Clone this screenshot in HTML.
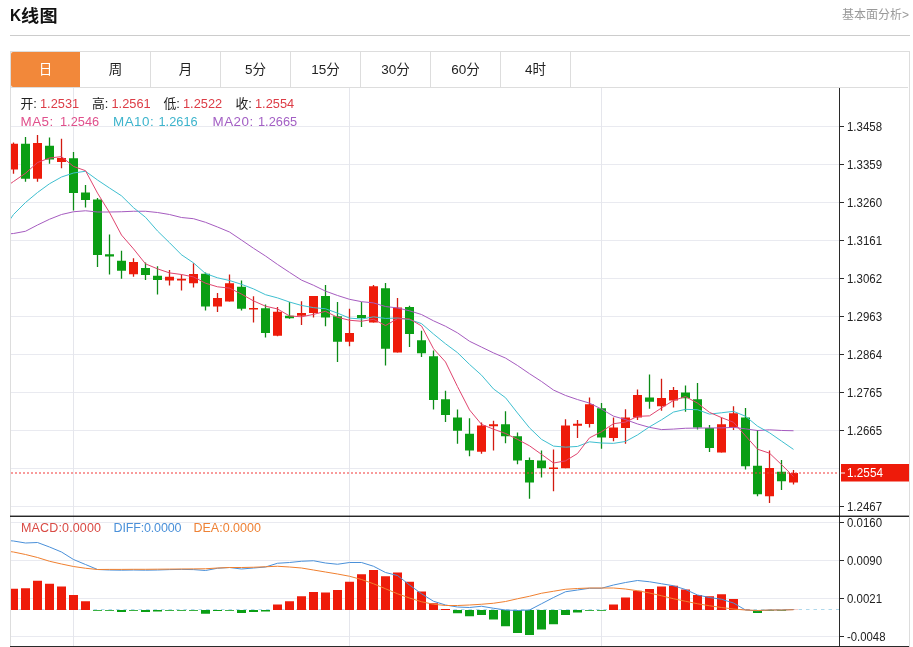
<!DOCTYPE html>
<html lang="zh-CN"><head><meta charset="utf-8"><title>K线图</title>
<style>
html,body{margin:0;padding:0;background:#fff;}
body{width:913px;height:647px;position:relative;overflow:hidden;font-family:"Liberation Sans","Noto Sans CJK SC",sans-serif;color:#222;}
.abs{position:absolute;white-space:nowrap;}
.title{left:10.5px;top:3.5px;font-size:17px;font-weight:bold;line-height:24px;color:#111;}
.more{right:4px;top:6.5px;font-size:12px;line-height:16px;color:#999;}
.hr{left:10px;top:35px;width:900px;height:1px;background:#ccc;}
.box{left:10px;top:51px;width:898px;height:600px;border:1px solid #ddd;}
.tabs{left:11px;top:52px;height:35px;width:897px;border-bottom:1px solid #ddd;}
.tab{position:absolute;top:0;width:69px;height:35px;line-height:36px;text-align:center;font-size:13.5px;border-right:1px solid #ddd;color:#222;}
.tab.on{background:#f2883a;color:#fff;border-right-color:#fff;border-radius:2px 0 0 2px;}
.t{font-size:12.8px;line-height:16px;}.l{font-size:13.4px;letter-spacing:.5px}.m{font-size:12.5px}
.red{color:#dc3c46}.pk{color:#e0508c}.cy{color:#3db4cc}.pu{color:#a35fc4}.mr{color:#d94a44}.mb{color:#4a90d9}.mo{color:#ee8236}
</style></head><body>
<div class="abs title" style="left:9.9px"><span style="display:inline-block;transform:scaleX(.9);transform-origin:0 50%;">K</span></div><div class="abs title" style="left:21.3px;letter-spacing:.3px;font-size:16.5px;transform:scaleX(1.1);transform-origin:0 50%;top:3.6px">线图</div>
<div class="abs more">基本面分析&gt;</div>
<div class="abs hr"></div>
<div class="abs box"></div>
<svg width="913" height="647" viewBox="0 0 913 647" style="position:absolute;left:0;top:0">
<defs><clipPath id="cp"><rect x="11" y="88" width="829" height="560"/></clipPath></defs>
<g stroke="#e9eaf0" stroke-width="1" shape-rendering="crispEdges">
<line x1="11" x2="839" y1="126.5" y2="126.5"/>
<line x1="11" x2="839" y1="164.5" y2="164.5"/>
<line x1="11" x2="839" y1="202.5" y2="202.5"/>
<line x1="11" x2="839" y1="240.5" y2="240.5"/>
<line x1="11" x2="839" y1="278.5" y2="278.5"/>
<line x1="11" x2="839" y1="316.5" y2="316.5"/>
<line x1="11" x2="839" y1="354.5" y2="354.5"/>
<line x1="11" x2="839" y1="392.5" y2="392.5"/>
<line x1="11" x2="839" y1="430.5" y2="430.5"/>
<line x1="11" x2="839" y1="468.5" y2="468.5"/>
<line x1="11" x2="839" y1="506.5" y2="506.5"/>
<line x1="11" x2="839" y1="522.5" y2="522.5"/>
<line x1="11" x2="839" y1="560.5" y2="560.5"/>
<line x1="11" x2="839" y1="598.5" y2="598.5"/>
<line x1="11" x2="839" y1="636.5" y2="636.5"/>
</g>
<g stroke="#e5e6ec" stroke-width="1" shape-rendering="crispEdges">
<line x1="73.5" x2="73.5" y1="88" y2="647"/>
<line x1="349.5" x2="349.5" y1="88" y2="647"/>
<line x1="601.5" x2="601.5" y1="88" y2="647"/>
</g>
<g clip-path="url(#cp)">
<line x1="11" x2="839" y1="609.5" y2="609.5" stroke="#b0d9ec" stroke-width="1" stroke-dasharray="3.5 4"/>
<line x1="13.5" x2="13.5" y1="142.5" y2="173.75" stroke="#d21a10" stroke-width="1.3"/>
<rect x="9" y="143.75" width="9" height="25.75" fill="#ee1b0a"/>
<line x1="25.5" x2="25.5" y1="137" y2="181.75" stroke="#0b8a16" stroke-width="1.3"/>
<rect x="21" y="143.75" width="9" height="35" fill="#0a9e14"/>
<line x1="37.5" x2="37.5" y1="135" y2="181.75" stroke="#d21a10" stroke-width="1.3"/>
<rect x="33" y="143" width="9" height="35.75" fill="#ee1b0a"/>
<line x1="49.5" x2="49.5" y1="137.5" y2="163.75" stroke="#0b8a16" stroke-width="1.3"/>
<rect x="45" y="145.75" width="9" height="13.75" fill="#0a9e14"/>
<line x1="61.5" x2="61.5" y1="138.75" y2="168.25" stroke="#d21a10" stroke-width="1.3"/>
<rect x="57" y="158" width="9" height="4" fill="#ee1b0a"/>
<line x1="73.5" x2="73.5" y1="152" y2="210.5" stroke="#0b8a16" stroke-width="1.3"/>
<rect x="69" y="158.25" width="9" height="34.75" fill="#0a9e14"/>
<line x1="85.5" x2="85.5" y1="185" y2="207.5" stroke="#0b8a16" stroke-width="1.3"/>
<rect x="81" y="192.5" width="9" height="7.5" fill="#0a9e14"/>
<line x1="97.5" x2="97.5" y1="198" y2="267" stroke="#0b8a16" stroke-width="1.3"/>
<rect x="93" y="199.5" width="9" height="55.5" fill="#0a9e14"/>
<line x1="109.5" x2="109.5" y1="234.5" y2="274.5" stroke="#0b8a16" stroke-width="1.3"/>
<rect x="105" y="254.25" width="9" height="2.25" fill="#0a9e14"/>
<line x1="121.5" x2="121.5" y1="250.75" y2="278.75" stroke="#0b8a16" stroke-width="1.3"/>
<rect x="117" y="260.75" width="9" height="10" fill="#0a9e14"/>
<line x1="133.5" x2="133.5" y1="258.25" y2="276.75" stroke="#d21a10" stroke-width="1.3"/>
<rect x="129" y="262" width="9" height="12.25" fill="#ee1b0a"/>
<line x1="145.5" x2="145.5" y1="262.5" y2="280" stroke="#0b8a16" stroke-width="1.3"/>
<rect x="141" y="268" width="9" height="7" fill="#0a9e14"/>
<line x1="157.5" x2="157.5" y1="266.25" y2="294.5" stroke="#0b8a16" stroke-width="1.3"/>
<rect x="153" y="275.75" width="9" height="4.25" fill="#0a9e14"/>
<line x1="169.5" x2="169.5" y1="270" y2="285.5" stroke="#d21a10" stroke-width="1.3"/>
<rect x="165" y="276.75" width="9" height="3.75" fill="#ee1b0a"/>
<line x1="181.5" x2="181.5" y1="274.5" y2="290.5" stroke="#d21a10" stroke-width="1.3"/>
<rect x="177" y="278.75" width="9" height="1.75" fill="#ee1b0a"/>
<line x1="193.5" x2="193.5" y1="263.25" y2="287.5" stroke="#d21a10" stroke-width="1.3"/>
<rect x="189" y="274" width="9" height="9.25" fill="#ee1b0a"/>
<line x1="205.5" x2="205.5" y1="272.5" y2="310.5" stroke="#0b8a16" stroke-width="1.3"/>
<rect x="201" y="273.75" width="9" height="32.75" fill="#0a9e14"/>
<line x1="217.5" x2="217.5" y1="293" y2="312" stroke="#d21a10" stroke-width="1.3"/>
<rect x="213" y="298" width="9" height="8.5" fill="#ee1b0a"/>
<line x1="229.5" x2="229.5" y1="274.5" y2="301.5" stroke="#d21a10" stroke-width="1.3"/>
<rect x="225" y="283.25" width="9" height="18.25" fill="#ee1b0a"/>
<line x1="241.5" x2="241.5" y1="280.5" y2="310.5" stroke="#0b8a16" stroke-width="1.3"/>
<rect x="237" y="286.75" width="9" height="22" fill="#0a9e14"/>
<line x1="253.5" x2="253.5" y1="296.25" y2="322.5" stroke="#d21a10" stroke-width="1.3"/>
<rect x="249" y="308" width="9" height="1.5" fill="#ee1b0a"/>
<line x1="265.5" x2="265.5" y1="304.5" y2="337.5" stroke="#0b8a16" stroke-width="1.3"/>
<rect x="261" y="308.25" width="9" height="24.75" fill="#0a9e14"/>
<line x1="277.5" x2="277.5" y1="307" y2="336.25" stroke="#d21a10" stroke-width="1.3"/>
<rect x="273" y="311.75" width="9" height="24" fill="#ee1b0a"/>
<line x1="289.5" x2="289.5" y1="302" y2="318.75" stroke="#0b8a16" stroke-width="1.3"/>
<rect x="285" y="315.75" width="9" height="2.5" fill="#0a9e14"/>
<line x1="301.5" x2="301.5" y1="301.25" y2="325" stroke="#d21a10" stroke-width="1.3"/>
<rect x="297" y="313" width="9" height="2.75" fill="#ee1b0a"/>
<line x1="313.5" x2="313.5" y1="296" y2="317.5" stroke="#d21a10" stroke-width="1.3"/>
<rect x="309" y="296" width="9" height="17" fill="#ee1b0a"/>
<line x1="325.5" x2="325.5" y1="285" y2="326.25" stroke="#0b8a16" stroke-width="1.3"/>
<rect x="321" y="296" width="9" height="21.5" fill="#0a9e14"/>
<line x1="337.5" x2="337.5" y1="302" y2="362" stroke="#0b8a16" stroke-width="1.3"/>
<rect x="333" y="316.25" width="9" height="25.5" fill="#0a9e14"/>
<line x1="349.5" x2="349.5" y1="308.75" y2="346.25" stroke="#d21a10" stroke-width="1.3"/>
<rect x="345" y="333" width="9" height="8.75" fill="#ee1b0a"/>
<line x1="361.5" x2="361.5" y1="302" y2="327" stroke="#0b8a16" stroke-width="1.3"/>
<rect x="357" y="315" width="9" height="3" fill="#0a9e14"/>
<line x1="373.5" x2="373.5" y1="285" y2="322.5" stroke="#d21a10" stroke-width="1.3"/>
<rect x="369" y="286.25" width="9" height="36.25" fill="#ee1b0a"/>
<line x1="385.5" x2="385.5" y1="283" y2="365.5" stroke="#0b8a16" stroke-width="1.3"/>
<rect x="381" y="288.25" width="9" height="60.5" fill="#0a9e14"/>
<line x1="397.5" x2="397.5" y1="298" y2="352.5" stroke="#d21a10" stroke-width="1.3"/>
<rect x="393" y="307.5" width="9" height="45" fill="#ee1b0a"/>
<line x1="409.5" x2="409.5" y1="305.75" y2="347" stroke="#0b8a16" stroke-width="1.3"/>
<rect x="405" y="307" width="9" height="27" fill="#0a9e14"/>
<line x1="421.5" x2="421.5" y1="330.75" y2="357" stroke="#0b8a16" stroke-width="1.3"/>
<rect x="417" y="340.25" width="9" height="13" fill="#0a9e14"/>
<line x1="433.5" x2="433.5" y1="350.5" y2="409.5" stroke="#0b8a16" stroke-width="1.3"/>
<rect x="429" y="356.25" width="9" height="43.75" fill="#0a9e14"/>
<line x1="445.5" x2="445.5" y1="390.75" y2="422" stroke="#0b8a16" stroke-width="1.3"/>
<rect x="441" y="399.25" width="9" height="15.75" fill="#0a9e14"/>
<line x1="457.5" x2="457.5" y1="409.5" y2="443.75" stroke="#0b8a16" stroke-width="1.3"/>
<rect x="453" y="417.5" width="9" height="13.25" fill="#0a9e14"/>
<line x1="469.5" x2="469.5" y1="418.25" y2="456.25" stroke="#0b8a16" stroke-width="1.3"/>
<rect x="465" y="433.75" width="9" height="16.75" fill="#0a9e14"/>
<line x1="481.5" x2="481.5" y1="422.5" y2="453.75" stroke="#d21a10" stroke-width="1.3"/>
<rect x="477" y="425.5" width="9" height="26.25" fill="#ee1b0a"/>
<line x1="493.5" x2="493.5" y1="420.75" y2="450.5" stroke="#d21a10" stroke-width="1.3"/>
<rect x="489" y="424.25" width="9" height="2" fill="#ee1b0a"/>
<line x1="505.5" x2="505.5" y1="411.25" y2="443.25" stroke="#0b8a16" stroke-width="1.3"/>
<rect x="501" y="424.25" width="9" height="12" fill="#0a9e14"/>
<line x1="517.5" x2="517.5" y1="432.5" y2="464.25" stroke="#0b8a16" stroke-width="1.3"/>
<rect x="513" y="436.25" width="9" height="24.25" fill="#0a9e14"/>
<line x1="529.5" x2="529.5" y1="457.5" y2="498.75" stroke="#0b8a16" stroke-width="1.3"/>
<rect x="525" y="460" width="9" height="22.5" fill="#0a9e14"/>
<line x1="541.5" x2="541.5" y1="450.5" y2="477.5" stroke="#0b8a16" stroke-width="1.3"/>
<rect x="537" y="460.5" width="9" height="7.75" fill="#0a9e14"/>
<line x1="553.5" x2="553.5" y1="449.5" y2="491.25" stroke="#d21a10" stroke-width="1.3"/>
<rect x="549" y="467.5" width="9" height="1.5" fill="#ee1b0a"/>
<line x1="565.5" x2="565.5" y1="419.25" y2="468.25" stroke="#d21a10" stroke-width="1.3"/>
<rect x="561" y="425.5" width="9" height="42.75" fill="#ee1b0a"/>
<line x1="577.5" x2="577.5" y1="420" y2="438" stroke="#d21a10" stroke-width="1.3"/>
<rect x="573" y="423.75" width="9" height="2" fill="#ee1b0a"/>
<line x1="589.5" x2="589.5" y1="397.5" y2="427.5" stroke="#d21a10" stroke-width="1.3"/>
<rect x="585" y="404.25" width="9" height="19.75" fill="#ee1b0a"/>
<line x1="601.5" x2="601.5" y1="403" y2="448.75" stroke="#0b8a16" stroke-width="1.3"/>
<rect x="597" y="408.25" width="9" height="29.25" fill="#0a9e14"/>
<line x1="613.5" x2="613.5" y1="417.5" y2="441.25" stroke="#d21a10" stroke-width="1.3"/>
<rect x="609" y="427.5" width="9" height="10.5" fill="#ee1b0a"/>
<line x1="625.5" x2="625.5" y1="409.25" y2="443.75" stroke="#d21a10" stroke-width="1.3"/>
<rect x="621" y="417.5" width="9" height="10.5" fill="#ee1b0a"/>
<line x1="637.5" x2="637.5" y1="389.5" y2="420" stroke="#d21a10" stroke-width="1.3"/>
<rect x="633" y="395" width="9" height="22.5" fill="#ee1b0a"/>
<line x1="649.5" x2="649.5" y1="374.5" y2="408.75" stroke="#0b8a16" stroke-width="1.3"/>
<rect x="645" y="397.5" width="9" height="4.25" fill="#0a9e14"/>
<line x1="661.5" x2="661.5" y1="378.75" y2="410.75" stroke="#d21a10" stroke-width="1.3"/>
<rect x="657" y="398" width="9" height="8.25" fill="#ee1b0a"/>
<line x1="673.5" x2="673.5" y1="387" y2="407.5" stroke="#d21a10" stroke-width="1.3"/>
<rect x="669" y="390" width="9" height="10.5" fill="#ee1b0a"/>
<line x1="685.5" x2="685.5" y1="385.5" y2="411.75" stroke="#0b8a16" stroke-width="1.3"/>
<rect x="681" y="392.5" width="9" height="5.75" fill="#0a9e14"/>
<line x1="697.5" x2="697.5" y1="383" y2="429.5" stroke="#0b8a16" stroke-width="1.3"/>
<rect x="693" y="399.25" width="9" height="28.25" fill="#0a9e14"/>
<line x1="709.5" x2="709.5" y1="425" y2="452" stroke="#0b8a16" stroke-width="1.3"/>
<rect x="705" y="428" width="9" height="20" fill="#0a9e14"/>
<line x1="721.5" x2="721.5" y1="417.5" y2="452.5" stroke="#d21a10" stroke-width="1.3"/>
<rect x="717" y="424.25" width="9" height="28.25" fill="#ee1b0a"/>
<line x1="733.5" x2="733.5" y1="406.25" y2="430" stroke="#d21a10" stroke-width="1.3"/>
<rect x="729" y="413.25" width="9" height="14.25" fill="#ee1b0a"/>
<line x1="745.5" x2="745.5" y1="408" y2="469.5" stroke="#0b8a16" stroke-width="1.3"/>
<rect x="741" y="417.5" width="9" height="48.75" fill="#0a9e14"/>
<line x1="757.5" x2="757.5" y1="430" y2="496.25" stroke="#0b8a16" stroke-width="1.3"/>
<rect x="753" y="465.75" width="9" height="28.5" fill="#0a9e14"/>
<line x1="769.5" x2="769.5" y1="450.5" y2="503" stroke="#d21a10" stroke-width="1.3"/>
<rect x="765" y="468" width="9" height="28.25" fill="#ee1b0a"/>
<line x1="781.5" x2="781.5" y1="460" y2="490" stroke="#0b8a16" stroke-width="1.3"/>
<rect x="777" y="471.75" width="9" height="9.5" fill="#0a9e14"/>
<line x1="793.5" x2="793.5" y1="470" y2="484.5" stroke="#d21a10" stroke-width="1.3"/>
<rect x="789" y="473" width="9" height="9.5" fill="#ee1b0a"/>
<rect x="9" y="588.75" width="9" height="21.25" fill="#ee1b0a"/>
<rect x="21" y="588.25" width="9" height="21.75" fill="#ee1b0a"/>
<rect x="33" y="580.75" width="9" height="29.25" fill="#ee1b0a"/>
<rect x="45" y="583.75" width="9" height="26.25" fill="#ee1b0a"/>
<rect x="57" y="586.5" width="9" height="23.5" fill="#ee1b0a"/>
<rect x="69" y="595" width="9" height="15" fill="#ee1b0a"/>
<rect x="81" y="601.25" width="9" height="8.75" fill="#ee1b0a"/>
<rect x="93" y="610" width="9" height="0.8" fill="#0a9e14"/>
<rect x="105" y="610" width="9" height="0.8" fill="#0a9e14"/>
<rect x="117" y="610" width="9" height="2" fill="#0a9e14"/>
<rect x="129" y="610" width="9" height="0.8" fill="#0a9e14"/>
<rect x="141" y="610" width="9" height="2" fill="#0a9e14"/>
<rect x="153" y="610" width="9" height="1.5" fill="#0a9e14"/>
<rect x="165" y="610" width="9" height="0.8" fill="#0a9e14"/>
<rect x="177" y="610" width="9" height="0.8" fill="#0a9e14"/>
<rect x="189" y="610" width="9" height="0.8" fill="#0a9e14"/>
<rect x="201" y="610" width="9" height="3.75" fill="#0a9e14"/>
<rect x="213" y="610" width="9" height="1" fill="#0a9e14"/>
<rect x="225" y="610" width="9" height="0.8" fill="#0a9e14"/>
<rect x="237" y="610" width="9" height="3" fill="#0a9e14"/>
<rect x="249" y="610" width="9" height="2" fill="#0a9e14"/>
<rect x="261" y="610" width="9" height="1.5" fill="#0a9e14"/>
<rect x="273" y="604.5" width="9" height="5.5" fill="#ee1b0a"/>
<rect x="285" y="601.25" width="9" height="8.75" fill="#ee1b0a"/>
<rect x="297" y="596.25" width="9" height="13.75" fill="#ee1b0a"/>
<rect x="309" y="592" width="9" height="18" fill="#ee1b0a"/>
<rect x="321" y="592.5" width="9" height="17.5" fill="#ee1b0a"/>
<rect x="333" y="590" width="9" height="20" fill="#ee1b0a"/>
<rect x="345" y="581.75" width="9" height="28.25" fill="#ee1b0a"/>
<rect x="357" y="574.25" width="9" height="35.75" fill="#ee1b0a"/>
<rect x="369" y="570" width="9" height="40" fill="#ee1b0a"/>
<rect x="381" y="576.25" width="9" height="33.75" fill="#ee1b0a"/>
<rect x="393" y="572.5" width="9" height="37.5" fill="#ee1b0a"/>
<rect x="405" y="581.75" width="9" height="28.25" fill="#ee1b0a"/>
<rect x="417" y="591.5" width="9" height="18.5" fill="#ee1b0a"/>
<rect x="429" y="603.25" width="9" height="6.75" fill="#ee1b0a"/>
<rect x="441" y="609" width="9" height="1" fill="#ee1b0a"/>
<rect x="453" y="610" width="9" height="3.25" fill="#0a9e14"/>
<rect x="465" y="610" width="9" height="6.25" fill="#0a9e14"/>
<rect x="477" y="610" width="9" height="5" fill="#0a9e14"/>
<rect x="489" y="610" width="9" height="9.5" fill="#0a9e14"/>
<rect x="501" y="610" width="9" height="16.25" fill="#0a9e14"/>
<rect x="513" y="610" width="9" height="23" fill="#0a9e14"/>
<rect x="525" y="610" width="9" height="25" fill="#0a9e14"/>
<rect x="537" y="610" width="9" height="19.5" fill="#0a9e14"/>
<rect x="549" y="610" width="9" height="14.25" fill="#0a9e14"/>
<rect x="561" y="610" width="9" height="5" fill="#0a9e14"/>
<rect x="573" y="610" width="9" height="2.5" fill="#0a9e14"/>
<rect x="585" y="610" width="9" height="0.8" fill="#0a9e14"/>
<rect x="597" y="610" width="9" height="0.8" fill="#0a9e14"/>
<rect x="609" y="604.5" width="9" height="5.5" fill="#ee1b0a"/>
<rect x="621" y="597.5" width="9" height="12.5" fill="#ee1b0a"/>
<rect x="633" y="590.75" width="9" height="19.25" fill="#ee1b0a"/>
<rect x="645" y="589" width="9" height="21" fill="#ee1b0a"/>
<rect x="657" y="586.5" width="9" height="23.5" fill="#ee1b0a"/>
<rect x="669" y="585.75" width="9" height="24.25" fill="#ee1b0a"/>
<rect x="681" y="589.5" width="9" height="20.5" fill="#ee1b0a"/>
<rect x="693" y="595" width="9" height="15" fill="#ee1b0a"/>
<rect x="705" y="596.25" width="9" height="13.75" fill="#ee1b0a"/>
<rect x="717" y="594.25" width="9" height="15.75" fill="#ee1b0a"/>
<rect x="729" y="599" width="9" height="11" fill="#ee1b0a"/>
<rect x="741" y="609.7" width="9" height="0.3" fill="#ee1b0a"/>
<rect x="753" y="610" width="9" height="3" fill="#0a9e14"/>
<rect x="765" y="610" width="9" height="0.8" fill="#0a9e14"/>
<rect x="777" y="610" width="9" height="0.8" fill="#0a9e14"/>
<rect x="789" y="609.8" width="9" height="0.2" fill="#ee1b0a"/>
<polyline fill="none" stroke="#a65cc0" stroke-width="1.0" stroke-linejoin="round" points="1.5,234.5 13.5,233.5 25.5,231.25 37.5,225 49.5,219.25 61.5,214.5 73.5,211.75 85.5,210.75 97.5,212 109.5,212 121.5,211.75 133.5,211.25 145.5,211.25 157.5,212.5 169.5,214.5 181.5,217.5 193.5,218.7 205.5,222.3 217.5,227 229.5,232 241.5,240.06 253.5,248.28 265.5,255.99 277.5,264.43 289.5,272.36 301.5,280.11 313.5,285.26 325.5,291.14 337.5,295.48 349.5,299.3 361.5,301.66 373.5,302.88 385.5,306.56 397.5,307.94 409.5,310.8 421.5,314.52 433.5,320.82 445.5,326.25 457.5,332.89 469.5,341.25 481.5,347.09 493.5,352.9 505.5,358.06 517.5,365.5 529.5,373.71 541.5,381.48 553.5,390.05 565.5,395.45 577.5,399.55 589.5,403.11 601.5,409.09 613.5,416.15 625.5,419.59 637.5,423.96 649.5,427.35 661.5,429.59 673.5,429.09 685.5,428.25 697.5,428.09 709.5,427.96 721.5,427.9 733.5,427.35 745.5,428.85 757.5,430.54 769.5,429.81 781.5,430.46 793.5,430.74"/>
<polyline fill="none" stroke="#3fbfd0" stroke-width="1.0" stroke-linejoin="round" points="1.5,232 13.5,214.5 25.5,202.5 37.5,192.5 49.5,183.75 61.5,177 73.5,173 85.5,171.25 97.5,180 109.5,188 121.5,195.82 133.5,207.65 145.5,217.28 157.5,230.97 169.5,242.7 181.5,254.78 193.5,262.88 205.5,273.52 217.5,277.82 229.5,280.5 241.5,284.3 253.5,288.9 265.5,294.7 277.5,297.88 289.5,302.02 301.5,305.45 313.5,307.65 325.5,308.75 337.5,313.12 349.5,318.1 361.5,319.02 373.5,316.85 385.5,318.43 397.5,318 409.5,319.57 421.5,323.6 433.5,334 445.5,343.75 457.5,352.65 469.5,364.4 481.5,375.15 493.5,388.95 505.5,397.7 517.5,413 529.5,427.85 541.5,439.35 553.5,446.1 565.5,447.15 577.5,446.45 589.5,441.82 601.5,443.02 613.5,443.35 625.5,441.48 637.5,434.93 649.5,426.85 661.5,419.82 673.5,412.07 685.5,409.35 697.5,409.73 709.5,414.1 721.5,412.77 733.5,411.35 745.5,416.23 757.5,426.15 769.5,432.77 781.5,441.1 793.5,449.4"/>
<polyline fill="none" stroke="#e0456f" stroke-width="1.0" stroke-linejoin="round" points="1.5,190 13.5,181.5 25.5,173.25 37.5,162.5 49.5,158 61.5,156.6 73.5,166.45 85.5,170.7 97.5,193.1 109.5,212.5 121.5,235.05 133.5,248.85 145.5,263.85 157.5,268.85 169.5,272.9 181.5,274.5 193.5,276.9 205.5,283.2 217.5,286.8 229.5,288.1 241.5,294.1 253.5,300.9 265.5,306.2 277.5,308.95 289.5,315.95 301.5,316.8 313.5,314.4 325.5,311.3 337.5,317.3 349.5,320.25 361.5,321.25 373.5,319.3 385.5,325.55 397.5,318.7 409.5,318.9 421.5,325.95 433.5,348.7 445.5,361.95 457.5,386.6 469.5,409.9 481.5,424.35 493.5,429.2 505.5,433.45 517.5,439.4 529.5,445.8 541.5,454.35 553.5,463 565.5,460.85 577.5,453.5 589.5,437.85 601.5,431.7 613.5,423.7 625.5,422.1 637.5,416.35 649.5,415.85 661.5,407.95 673.5,400.45 685.5,396.6 697.5,403.1 709.5,412.35 721.5,417.6 733.5,422.25 745.5,435.85 757.5,449.2 769.5,453.2 781.5,464.6 793.5,476.55"/>
<polyline fill="none" stroke="#4a90d9" stroke-width="1.0" stroke-linejoin="round" points="1.5,540 13.5,541 25.5,543 37.5,542.5 49.5,547 61.5,552 73.5,559.5 85.5,564.5 97.5,569.5 109.5,570 121.5,570.2 133.5,570 145.5,570.2 157.5,570 169.5,569.6 181.5,569.4 193.5,569.6 205.5,570.5 217.5,568.25 229.5,567.5 241.5,569 253.5,568 265.5,567 277.5,563.25 289.5,562.5 301.5,561.25 313.5,560.75 325.5,563 337.5,564.25 349.5,562.5 361.5,562.5 373.5,566.25 385.5,572.5 397.5,575.5 409.5,585 421.5,593.75 433.5,601.25 445.5,605 457.5,607 469.5,607.5 481.5,606.25 493.5,608.25 505.5,610 517.5,610.5 529.5,610 541.5,603.75 553.5,597.5 565.5,591.75 577.5,590 589.5,588.25 601.5,588.25 613.5,585 625.5,582.5 637.5,580.5 649.5,581.75 661.5,583.75 673.5,585.75 685.5,589.5 697.5,595 709.5,597.5 721.5,599.25 733.5,603 745.5,610 757.5,610.75 769.5,610 781.5,610 793.5,609.5"/>
<polyline fill="none" stroke="#f08030" stroke-width="1.0" stroke-linejoin="round" points="1.5,550.5 13.5,552 25.5,554.5 37.5,557.5 49.5,561.25 61.5,564 73.5,566.5 85.5,568.25 97.5,569.5 109.5,569.4 121.5,569.4 133.5,569.3 145.5,569.3 157.5,569.2 169.5,569.1 181.5,569 193.5,568.9 205.5,568.75 217.5,568 229.5,567.5 241.5,567.5 253.5,567.25 265.5,566.75 277.5,566.25 289.5,567 301.5,568 313.5,570 325.5,572 337.5,574 349.5,576.25 361.5,579.5 373.5,583.75 385.5,588.75 397.5,593.75 409.5,598 421.5,601.75 433.5,604.25 445.5,605.5 457.5,605.5 469.5,605 481.5,604.25 493.5,603.25 505.5,601.5 517.5,598.75 529.5,596.25 541.5,593.25 553.5,591.25 565.5,589.25 577.5,588.5 589.5,588 601.5,588 613.5,588 625.5,589 637.5,590.75 649.5,593 661.5,595.75 673.5,598.75 685.5,601.25 697.5,603.75 709.5,605.75 721.5,607.5 733.5,609 745.5,610 757.5,610.5 769.5,610 781.5,610 793.5,609.75"/>
</g>
<line x1="11" x2="840" y1="473" y2="473" stroke="#f23838" stroke-width="1.1" stroke-dasharray="2 2"/>
<g stroke="#2a2a2a" shape-rendering="crispEdges">
<line x1="839.5" x2="839.5" y1="88" y2="647" stroke-width="1"/>
<rect x="10" y="515.6" width="899" height="1.3" fill="#111" stroke="none" shape-rendering="auto"/>
<line x1="10" x2="909" y1="646.5" y2="646.5" stroke-width="1"/>
<line x1="840" x2="844" y1="126.5" y2="126.5"/>
<line x1="840" x2="844" y1="164.5" y2="164.5"/>
<line x1="840" x2="844" y1="202.5" y2="202.5"/>
<line x1="840" x2="844" y1="240.5" y2="240.5"/>
<line x1="840" x2="844" y1="278.5" y2="278.5"/>
<line x1="840" x2="844" y1="316.5" y2="316.5"/>
<line x1="840" x2="844" y1="354.5" y2="354.5"/>
<line x1="840" x2="844" y1="392.5" y2="392.5"/>
<line x1="840" x2="844" y1="430.5" y2="430.5"/>
<line x1="840" x2="844" y1="506.5" y2="506.5"/>
<line x1="840" x2="844" y1="522.5" y2="522.5"/>
<line x1="840" x2="844" y1="560.5" y2="560.5"/>
<line x1="840" x2="844" y1="598.5" y2="598.5"/>
<line x1="840" x2="844" y1="636.5" y2="636.5"/>
</g>
<g font-family="'Liberation Sans', sans-serif" font-size="12.5" fill="#222">
<text x="847" y="130.6" textLength="35" lengthAdjust="spacingAndGlyphs">1.3458</text>
<text x="847" y="168.6" textLength="35" lengthAdjust="spacingAndGlyphs">1.3359</text>
<text x="847" y="206.6" textLength="35" lengthAdjust="spacingAndGlyphs">1.3260</text>
<text x="847" y="244.6" textLength="35" lengthAdjust="spacingAndGlyphs">1.3161</text>
<text x="847" y="282.6" textLength="35" lengthAdjust="spacingAndGlyphs">1.3062</text>
<text x="847" y="320.6" textLength="35" lengthAdjust="spacingAndGlyphs">1.2963</text>
<text x="847" y="358.6" textLength="35" lengthAdjust="spacingAndGlyphs">1.2864</text>
<text x="847" y="396.6" textLength="35" lengthAdjust="spacingAndGlyphs">1.2765</text>
<text x="847" y="434.6" textLength="35" lengthAdjust="spacingAndGlyphs">1.2665</text>
<text x="847" y="510.6" textLength="35" lengthAdjust="spacingAndGlyphs">1.2467</text>
<text x="847" y="526.6" textLength="35" lengthAdjust="spacingAndGlyphs">0.0160</text>
<text x="847" y="564.6" textLength="35" lengthAdjust="spacingAndGlyphs">0.0090</text>
<text x="847" y="602.6" textLength="35" lengthAdjust="spacingAndGlyphs">0.0021</text>
<text x="847" y="640.6" textLength="38.5" lengthAdjust="spacingAndGlyphs">-0.0048</text>
</g>
<rect x="841" y="464" width="68" height="17.5" fill="#ee1b0a"/>
<line x1="841" x2="845" y1="473" y2="473" stroke="#fff" stroke-width="1"/>
<text x="847" y="477.2" font-family="'Liberation Sans', sans-serif" font-size="12.5" fill="#fff" textLength="36" lengthAdjust="spacingAndGlyphs">1.2554</text>
</svg>
<div class="abs tabs"><div class="tab on" style="left:0px">日</div><div class="tab" style="left:70px">周</div><div class="tab" style="left:140px">月</div><div class="tab" style="left:210px">5分</div><div class="tab" style="left:280px">15分</div><div class="tab" style="left:350px">30分</div><div class="tab" style="left:420px">60分</div><div class="tab" style="left:490px">4时</div></div>
<div class="abs t " style="left:20.5px;top:96px;">开:</div><div class="abs t red" style="left:40.0px;top:96px;">1.2531</div><div class="abs t " style="left:92px;top:96px;">高:</div><div class="abs t red" style="left:111.5px;top:96px;">1.2561</div><div class="abs t " style="left:163.5px;top:96px;">低:</div><div class="abs t red" style="left:183.0px;top:96px;">1.2522</div><div class="abs t " style="left:235.5px;top:96px;">收:</div><div class="abs t red" style="left:255.0px;top:96px;">1.2554</div><div class="abs t pk l" style="left:20.5px;top:114.2px;">MA5:</div><div class="abs t pk" style="left:60px;top:114.2px;">1.2546</div><div class="abs t cy l" style="left:113px;top:114.2px;">MA10:</div><div class="abs t cy" style="left:158.5px;top:114.2px;">1.2616</div><div class="abs t pu l" style="left:212.5px;top:114.2px;">MA20:</div><div class="abs t pu" style="left:258px;top:114.2px;">1.2665</div><div class="abs t mr m" style="left:21px;top:519.6px;"><span style="letter-spacing:.15px">MACD:0.0000</span></div><div class="abs t mb m" style="left:113.5px;top:519.6px;"><span style="letter-spacing:-.15px">DIFF:0.0000</span></div><div class="abs t mo m" style="left:193.5px;top:519.6px;">DEA:0.0000</div>
</body></html>
